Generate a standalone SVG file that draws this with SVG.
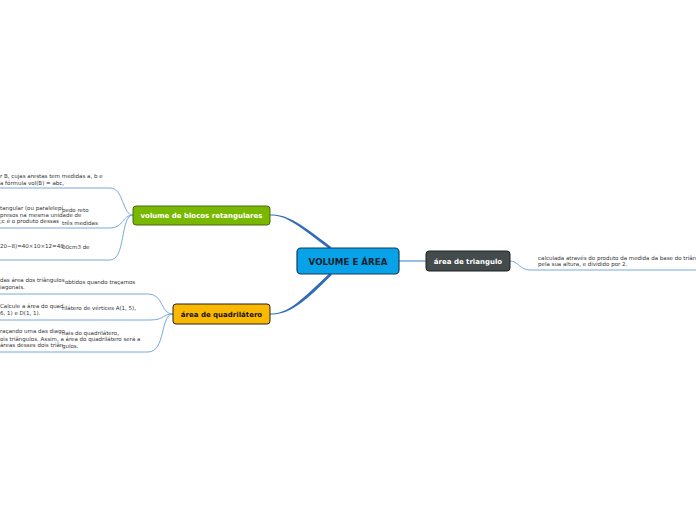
<svg xmlns="http://www.w3.org/2000/svg" width="696" height="520" viewBox="0 0 696 520">
<style>
.t{font-family:"DejaVu Sans",Verdana,sans-serif;font-size:5.5px;fill:#333}
.nb{font-family:"DejaVu Sans",Verdana,sans-serif;font-weight:bold;text-anchor:middle}
.br{fill:none;stroke:#6a9fd8;stroke-width:0.9}
</style>
<rect width="696" height="520" fill="#fff"/>
<g id="connectors">
<path d="M270,214.6 C286,214.6 296,220 331.5,247.3 L329,248.7 C294,222 286,215.4 270,215.4 Z" fill="#2f6db8"/>
<path d="M270,313.6 C286,313.6 296,306 329.5,273.3 L332,274.7 C298,309 286,314.4 270,314.4 Z" fill="#2f6db8"/>
<path d="M399,261 L426,261" stroke="#3a78c0" stroke-width="1" fill="none"/>
<path class="br" d="M510,261 C518,261 520,270 530,270 L696,270"/>
<path class="br" d="M133,215 C122,215 124,188 110,188 L0,188"/>
<path class="br" d="M133,215 C122,215 124,228 110,228 L0,228"/>
<path class="br" d="M133,215 C120,215 126,260 110,260 L0,260"/>
<path class="br" d="M173,314 C160,314 164,294 148,294 L0,294"/>
<path class="br" d="M173,314 C162,314 165,320 150,320 L0,320"/>
<path class="br" d="M173,314 C160,314 166,352 148,352 L0,352"/>
</g>
<g id="central">
<rect x="297" y="248" width="102" height="26" rx="4" fill="#07a2e8" stroke="#163a5a" stroke-width="1.2"/>
<text class="nb" x="348" y="264.5" font-size="8.7" fill="#14222e">VOLUME E ÁREA</text>
</g>
<g id="volume">
<rect x="133" y="206" width="137" height="19" rx="3" fill="#78b800" stroke="#4a6a12" stroke-width="1"/>
<text class="nb" x="201.5" y="218" font-size="7" fill="#fff">volume de blocos retangulares</text>
</g>
<g id="quadrilatero">
<rect x="173" y="304" width="97" height="20" rx="3" fill="#fbb800" stroke="#222" stroke-width="1"/>
<text class="nb" x="221.5" y="316.5" font-size="7" fill="#111">área de quadrilátero</text>
</g>
<g id="triangulo">
<rect x="426" y="251" width="84" height="20" rx="3" fill="#434b4d" stroke="#1e2222" stroke-width="1"/>
<text class="nb" x="468" y="263.5" font-size="7" fill="#fff">área de triangulo</text>
</g>
<g id="texts">
<text class="t" x="0" y="178">r B, cujas arestas tem medidas a, b e</text>
<text class="t" x="0" y="184.5">a fórmula vol(B) = abc,</text>
<text class="t" x="0" y="210">tangular (ou paralelepí</text>
<text class="t" x="62" y="211.5">pedo reto</text>
<text class="t" x="0" y="217">presos na mesma unidade de</text>
<text class="t" x="0" y="223">;c é o produto dessas</text>
<text class="t" x="62" y="224.5">três medidas</text>
<text class="t" x="0" y="247.5">20−8)=40×10×12=48</text>
<text class="t" x="62" y="249">00cm3 de</text>
<text class="t" x="0" y="282">das área dos triângulos</text>
<text class="t" x="65" y="283.5">obtidos quando traçamos</text>
<text class="t" x="0" y="289">iagonais.</text>
<text class="t" x="0" y="308">Calcule a área do quad</text>
<text class="t" x="62" y="309.5">rilátero de vértices A(1, 5),</text>
<text class="t" x="0" y="314.5">6, 1) e D(1, 1).</text>
<text class="t" x="0" y="333">raçando uma das diago</text>
<text class="t" x="62" y="334.5">nais do quadrilátero,</text>
<text class="t" x="0" y="340.5">ois triângulos. Assim, a área do quadrilátero será a</text>
<text class="t" x="0" y="346.5">áreas desses dois triân</text>
<text class="t" x="62" y="348">gulos.</text>
<text class="t" x="538" y="259.5">calculada através do produto da medida da base do triân</text>
<text class="t" x="538" y="266">pela sua altura, e dividido por 2.</text>
</g>
</svg>
